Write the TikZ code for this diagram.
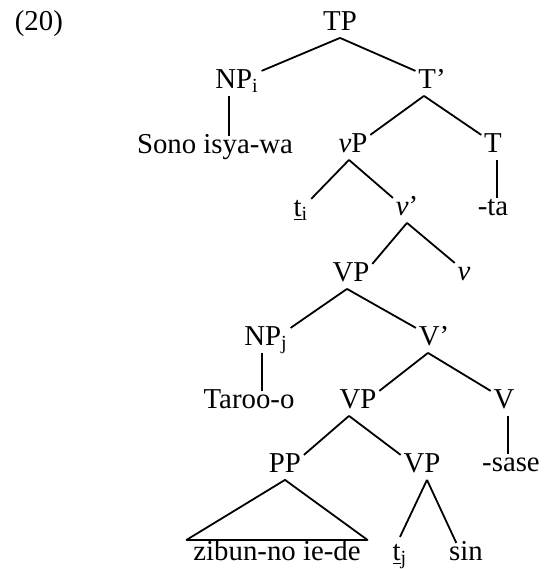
\documentclass[tikz,border=0pt]{standalone}
\usepackage{fontspec}
\setmainfont{Liberation Serif}
\begin{document}
\begin{tikzpicture}[x=0.5pt, y=-0.5pt, line width=0.9pt,
  cat/.style={anchor=base, inner xsep=1pt, inner ysep=1.5pt, text height=0.66em, text depth=0.2em, font=\fontsize{14.4}{17}\selectfont}]
\useasboundingbox (0,0) rectangle (545,569);

\node [cat, anchor=base west] (ex) at (12,30) {(20)};

\node [cat] (TP) at (340,30) {TP};
\node [cat] (NPi) at (237,88) {NP\textsubscript{i}};
\node [cat] (Tbar) at (432,88) {T'};
\node [cat] (Sono) at (215,153) {Sono isya-wa};
\node [cat] (vP) at (353,152) {\textit{v}P};
\node [cat] (T) at (493,152) {T};
\draw (TP.south) -- (NPi.north east);
\draw (TP.south) -- (Tbar.north west);
\draw ([xshift=-4pt]NPi.south) -- ([xshift=-4pt]NPi.south |- Sono.north);
\draw ([xshift=-4pt]Tbar.south) -- (vP.north east);
\draw ([xshift=-4pt]Tbar.south) -- (T.north west);

\node [cat] (ti) at (301,216) {\underline{t}\textsubscript{i}};
\node [cat] (vbar) at (407,215) {\textit{v}'};
\node [cat] (ta) at (493,215) {-ta};
\node [cat] (VPa) at (351,281) {VP};
\node [cat] (v) at (464,280) {\textit{v}};
\draw ([xshift=2pt]T.south) -- ([xshift=2pt]T.south |- ta.north);
\draw ([xshift=-2pt]vP.south) -- (ti.north east);
\draw ([xshift=-2pt]vP.south) -- (vbar.north west);
\draw (vbar.south) -- (VPa.north east);
\draw (vbar.south) -- (v.north west);

\node [cat] (NPj) at (266,345) {NP\textsubscript{j}};
\node [cat] (Vbar) at (434,345) {V'};
\node [cat] (Taroo) at (249,408) {Taroo-o};
\node [cat] (VPb) at (358,408) {VP};
\node [cat] (V) at (504,408) {V};
\draw ([xshift=-2pt]VPa.south) -- (NPj.north east);
\draw ([xshift=-2pt]VPa.south) -- (Vbar.north west);
\draw ([xshift=-2pt]NPj.south) -- ([xshift=-2pt]NPj.south |- Taroo.north);
\draw ([xshift=-3pt]Vbar.south) -- (VPb.north east);
\draw ([xshift=-3pt]Vbar.south) -- (V.north west);

\node [cat] (PP) at (285,472) {PP};
\node [cat] (VPc) at (422,472) {VP};
\node [cat] (sase) at (511,471) {-sase};
\node [cat, inner xsep=3pt, inner ysep=3pt] (zibun) at (277,560) {zibun-no ie-de};
\node [cat] (tj) at (400,560) {\underline{t}\textsubscript{j}};
\node [cat] (sin) at (466,560) {sin};
\draw ([xshift=2pt]V.south) -- ([xshift=2pt]V.south |- sase.north);
\draw ([xshift=-4.5pt]VPb.south) -- (PP.north east);
\draw ([xshift=-4.5pt]VPb.south) -- (VPc.north west);
\draw[line join=round] (PP.south) -- (zibun.north west) -- (zibun.north east) -- cycle;
\draw ([xshift=2.5pt]VPc.south) -- ([yshift=3pt]tj.north);
\draw ([xshift=2.5pt]VPc.south) -- ([xshift=5pt]sin.north west);

\end{tikzpicture}
\end{document}
